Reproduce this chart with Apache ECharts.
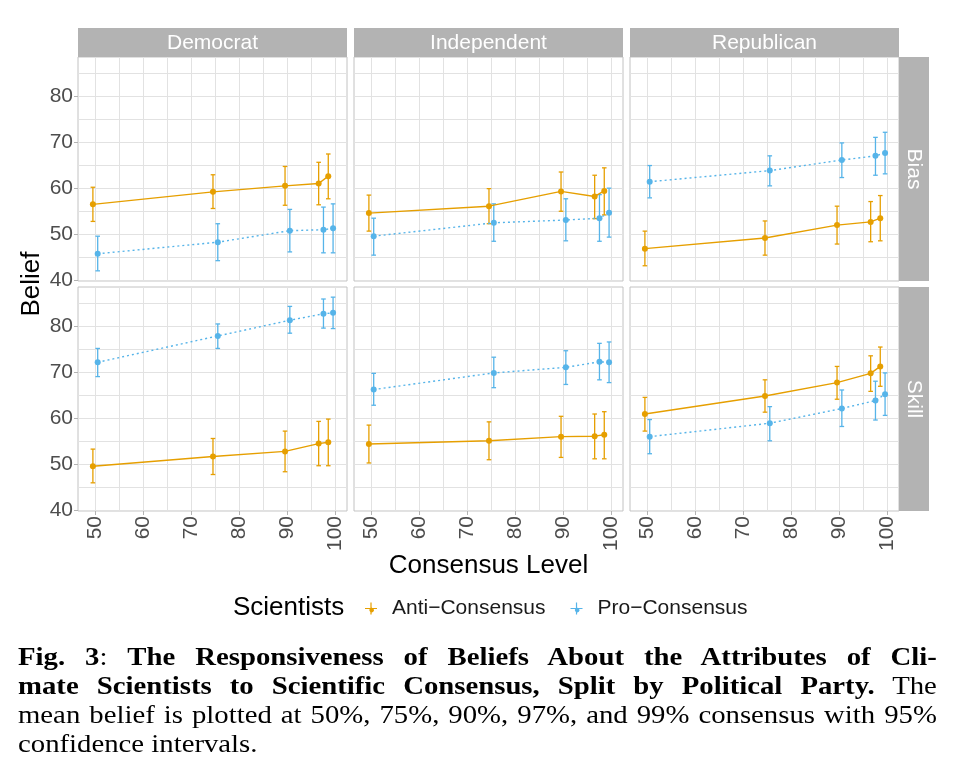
<!DOCTYPE html>
<html>
<head>
<meta charset="utf-8">
<script src="https://cdn.jsdelivr.net/npm/echarts@6/dist/echarts.min.js"></script>
<style>
html,body{margin:0;padding:0;background:#fff;}
#chart{position:absolute;left:0;top:0;width:979px;height:778px;}
#cap{position:absolute;left:18px;top:642px;width:799px;font-family:"Liberation Serif","Times New Roman",serif;font-size:25px;line-height:29px;color:#000;transform:scaleX(1.15);transform-origin:0 0;}
#cap .j{text-align:justify;text-align-last:justify;}
#cap .l{text-align:left;}
</style>
</head>
<body>
<div id="chart"></div>
<div id="cap">
<div class="j"><b>Fig. 3</b>: <b>The Responsiveness of Beliefs About the Attributes of Cli-</b></div>
<div class="j"><b>mate Scientists to Scientific Consensus, Split by Political Party.</b> The</div>
<div class="j">mean belief is plotted at 50%, 75%, 90%, 97%, and 99% consensus with 95%</div>
<div class="l">confidence intervals.</div>
</div>
<script>
// ---------- data ----------
const parties = ['Democrat', 'Independent', 'Republican'];
const attributes = ['Bias', 'Skill'];
const groups = ['Anti\u2212Consensus', 'Pro\u2212Consensus'];
const consensus = [50, 75, 90, 97, 99];
const xTicks = [50, 60, 70, 80, 90, 100];
const yTicks = [40, 50, 60, 70, 80];

// Bias
const demBiasAnti   = [56.5, 59.2, 60.5, 61.0, 62.6];
const demBiasAntiLo = [52.8, 55.6, 56.3, 56.4, 57.7];
const demBiasAntiHi = [60.2, 62.9, 64.7, 65.6, 67.4];
const demBiasPro    = [45.8, 48.3, 50.8, 51.0, 51.3];
const demBiasProLo  = [42.1, 44.3, 46.2, 46.0, 46.0];
const demBiasProHi  = [49.6, 52.3, 55.4, 55.9, 56.6];

const indBiasAnti   = [54.6, 56.1, 59.3, 58.2, 59.4];
const indBiasAntiLo = [50.7, 52.3, 55.0, 53.4, 54.2];
const indBiasAntiHi = [58.5, 59.9, 63.5, 62.8, 64.4];
const indBiasPro    = [49.6, 52.5, 53.1, 53.5, 54.7];
const indBiasProLo  = [45.5, 48.5, 48.6, 48.5, 49.4];
const indBiasProHi  = [53.5, 56.6, 57.7, 58.6, 60.0];

const repBiasAnti   = [46.9, 49.2, 52.0, 52.7, 53.5];
const repBiasAntiLo = [43.2, 45.5, 47.9, 48.4, 48.6];
const repBiasAntiHi = [50.7, 52.9, 56.1, 57.1, 58.4];
const repBiasPro    = [61.4, 63.8, 66.1, 67.0, 67.6];
const repBiasProLo  = [57.9, 60.5, 62.3, 62.8, 63.1];
const repBiasProHi  = [64.9, 67.0, 69.8, 71.0, 72.1];

// Skill
const demSkillAnti   = [49.6, 51.7, 52.8, 54.5, 54.8];
const demSkillAntiLo = [46.0, 47.8, 48.4, 49.7, 49.7];
const demSkillAntiHi = [53.3, 55.6, 57.2, 59.3, 59.8];
const demSkillPro    = [72.1, 77.8, 81.2, 82.6, 82.8];
const demSkillProLo  = [69.0, 75.1, 78.4, 79.5, 79.4];
const demSkillProHi  = [75.1, 80.4, 84.2, 85.8, 86.2];

const indSkillAnti   = [54.4, 55.1, 56.0, 56.1, 56.4];
const indSkillAntiLo = [50.3, 51.0, 51.5, 51.2, 51.2];
const indSkillAntiHi = [58.5, 59.2, 60.4, 60.9, 61.4];
const indSkillPro    = [66.2, 69.8, 71.0, 72.2, 72.1];
const indSkillProLo  = [62.8, 66.6, 67.3, 68.3, 67.7];
const indSkillProHi  = [69.7, 73.2, 74.6, 76.2, 76.5];

const repSkillAnti   = [60.9, 64.8, 67.7, 69.7, 71.2];
const repSkillAntiLo = [57.2, 61.3, 64.1, 65.8, 66.9];
const repSkillAntiHi = [64.5, 68.3, 71.2, 73.5, 75.4];
const repSkillPro    = [56.0, 58.9, 62.1, 63.8, 65.2];
const repSkillProLo  = [52.3, 55.1, 58.2, 59.6, 60.6];
const repSkillProHi  = [59.7, 62.5, 66.1, 68.0, 69.8];

// ---------- assembly ----------
const panels = {
  'Bias|Democrat':    [[demBiasAnti, demBiasAntiLo, demBiasAntiHi], [demBiasPro, demBiasProLo, demBiasProHi]],
  'Bias|Independent': [[indBiasAnti, indBiasAntiLo, indBiasAntiHi], [indBiasPro, indBiasProLo, indBiasProHi]],
  'Bias|Republican':  [[repBiasAnti, repBiasAntiLo, repBiasAntiHi], [repBiasPro, repBiasProLo, repBiasProHi]],
  'Skill|Democrat':    [[demSkillAnti, demSkillAntiLo, demSkillAntiHi], [demSkillPro, demSkillProLo, demSkillProHi]],
  'Skill|Independent': [[indSkillAnti, indSkillAntiLo, indSkillAntiHi], [indSkillPro, indSkillProLo, indSkillProHi]],
  'Skill|Republican':  [[repSkillAnti, repSkillAntiLo, repSkillAntiHi], [repSkillPro, repSkillProLo, repSkillProHi]]
};

const colors = ['#E69F00', '#56B4E9'];
const dodge = [-0.5, 0.5];
const lineTypes = ['solid', [2, 3]];
const xMin = 46.4, xMax = 102.4, yMin = 39.9, yMax = 88.4;
const colLeft = [78, 354, 630], panelW = 269;
const rowTop = [57, 287], panelH = 224;
const FONT = '"Liberation Sans", Arial, sans-serif';
const xGridVals = [50, 55, 60, 65, 70, 75, 80, 85, 90, 95, 100];
const yGridVals = [40, 45, 50, 55, 60, 65, 70, 75, 80, 85];

const grids = [], xAxes = [], yAxes = [], series = [], graphics = [];

function gridLineRender(params, api) {
  const cs = params.coordSys;
  const v = api.value(0), dir = api.value(1);
  if (dir === 0) {
    const p = api.coord([v, yMin]);
    const x = Math.round(p[0]) + 0.5;
    return { type: 'line', silent: true, shape: { x1: x, y1: cs.y, x2: x, y2: cs.y + cs.height },
      style: { stroke: '#E2E2E2', lineWidth: 1 } };
  }
  const p = api.coord([xMin, v]);
  const y = Math.round(p[1]) + 0.5;
  return { type: 'line', silent: true, shape: { x1: cs.x, y1: y, x2: cs.x + cs.width, y2: y },
    style: { stroke: '#E2E2E2', lineWidth: 1 } };
}

function makeErrRender(color) {
  return function (params, api) {
    const x = api.value(0), lo = api.value(1), hi = api.value(2);
    const a = api.coord([x, lo]), b = api.coord([x, hi]);
    const w = 2.3;
    const st = { stroke: color, lineWidth: 1.3 };
    return { type: 'group', children: [
      { type: 'line', shape: { x1: a[0], y1: a[1], x2: b[0], y2: b[1] }, style: st },
      { type: 'line', shape: { x1: a[0] - w, y1: a[1], x2: a[0] + w, y2: a[1] }, style: st },
      { type: 'line', shape: { x1: b[0] - w, y1: b[1], x2: b[0] + w, y2: b[1] }, style: st }
    ] };
  };
}

let gi = 0;
attributes.forEach((attr, r) => {
  parties.forEach((party, c) => {
    grids.push({ left: colLeft[c], top: rowTop[r], width: panelW, height: panelH,
      show: true, borderColor: '#C2C2C2', borderWidth: 1, backgroundColor: 'transparent' });
    xAxes.push({ gridIndex: gi, type: 'value', min: xMin, max: xMax,
      axisLine: { show: false }, splitLine: { show: false },
      axisTick: { show: r === 1, customValues: xTicks, length: 4, lineStyle: { color: '#B3B3B3' } },
      axisLabel: { show: r === 1, customValues: xTicks, rotate: 90, margin: 5,
        fontSize: 21, color: '#4D4D4D', fontFamily: FONT } });
    yAxes.push({ gridIndex: gi, type: 'value', min: yMin, max: yMax,
      axisLine: { show: false }, splitLine: { show: false },
      axisTick: { show: c === 0, customValues: yTicks, length: 4, lineStyle: { color: '#B3B3B3' } },
      axisLabel: { show: c === 0, customValues: yTicks, margin: 5,
        fontSize: 21, color: '#4D4D4D', fontFamily: FONT } });

    const gridData = xGridVals.map(v => [v, 0]).concat(yGridVals.map(v => [v, 1]));
    series.push({ type: 'custom', xAxisIndex: gi, yAxisIndex: gi, z: 0, silent: true,
      renderItem: gridLineRender, data: gridData, encode: { x: 0, y: 1 } });

    const pd = panels[attr + '|' + party];
    [0, 1].forEach(g => {
      const [mean, lo, hi] = pd[g];
      series.push({ type: 'custom', name: groups[g], xAxisIndex: gi, yAxisIndex: gi, z: 2, silent: true,
        renderItem: makeErrRender(colors[g]), encode: { x: 0, y: [1, 2] },
        data: consensus.map((cv, i) => [cv + dodge[g], lo[i], hi[i]]) });
    });
    [0, 1].forEach(g => {
      const mean = pd[g][0];
      series.push({ type: 'line', name: groups[g], xAxisIndex: gi, yAxisIndex: gi, z: 3,
        symbol: 'circle', symbolSize: 6, showSymbol: true,
        itemStyle: { color: colors[g] },
        lineStyle: { color: colors[g], width: 1.4, type: lineTypes[g] },
        data: consensus.map((cv, i) => [cv + dodge[g], mean[i]]) });
    });
    gi++;
  });
});

// strips
parties.forEach((party, c) => {
  graphics.push({ type: 'rect', silent: true, shape: { x: colLeft[c], y: 28, width: panelW, height: 29 },
    style: { fill: '#B3B3B3' } });
  graphics.push({ type: 'text', silent: true, x: colLeft[c] + panelW / 2, y: 43,
    style: { text: party, fill: '#fff', fontSize: 21, fontFamily: FONT, align: 'center', verticalAlign: 'middle' } });
});
attributes.forEach((attr, r) => {
  graphics.push({ type: 'rect', silent: true, shape: { x: 899, y: rowTop[r], width: 30, height: panelH },
    style: { fill: '#B3B3B3' } });
  graphics.push({ type: 'text', silent: true, x: 914, y: rowTop[r] + panelH / 2, rotation: -Math.PI / 2,
    style: { text: attr, fill: '#fff', fontSize: 21, fontFamily: FONT, align: 'center', verticalAlign: 'middle' } });
});
// axis titles
graphics.push({ type: 'text', silent: true, x: 488.5, y: 566,
  style: { text: 'Consensus Level', fill: '#000', fontSize: 26, fontFamily: FONT, align: 'center', verticalAlign: 'middle' } });
graphics.push({ type: 'text', silent: true, x: 32, y: 284, rotation: Math.PI / 2,
  style: { text: 'Belief', fill: '#000', fontSize: 26, fontFamily: FONT, align: 'center', verticalAlign: 'middle' } });
graphics.push({ type: 'text', silent: true, x: 233, y: 608,
  style: { text: 'Scientists', fill: '#000', fontSize: 26, fontFamily: FONT, align: 'left', verticalAlign: 'middle' } });

const keyIcon = 'path://M5.4,0 H6.6 V5.4 H12 V6.6 H6.6 V12 H5.4 V6.6 H0 V5.4 H5.4 Z M8.3,6 A2.3,2.3 0 1 1 8.29,5.99 Z';

const chart = echarts.init(document.getElementById('chart'), null, { renderer: 'canvas' });
chart.setOption({
  animation: false,
  backgroundColor: '#fff',
  grid: grids,
  xAxis: xAxes,
  yAxis: yAxes,
  legend: {
    left: 360, top: 593, itemWidth: 12, itemHeight: 12, itemGap: 25,
    data: groups.map((n, g) => ({ name: n, icon: keyIcon, itemStyle: { color: colors[g] } })),
    textStyle: { fontSize: 21, color: '#1A1A1A', fontFamily: FONT, padding: [0, 0, 0, 10] },
    selectedMode: false
  },
  graphic: graphics,
  series: series
});
</script>
</body>
</html>
